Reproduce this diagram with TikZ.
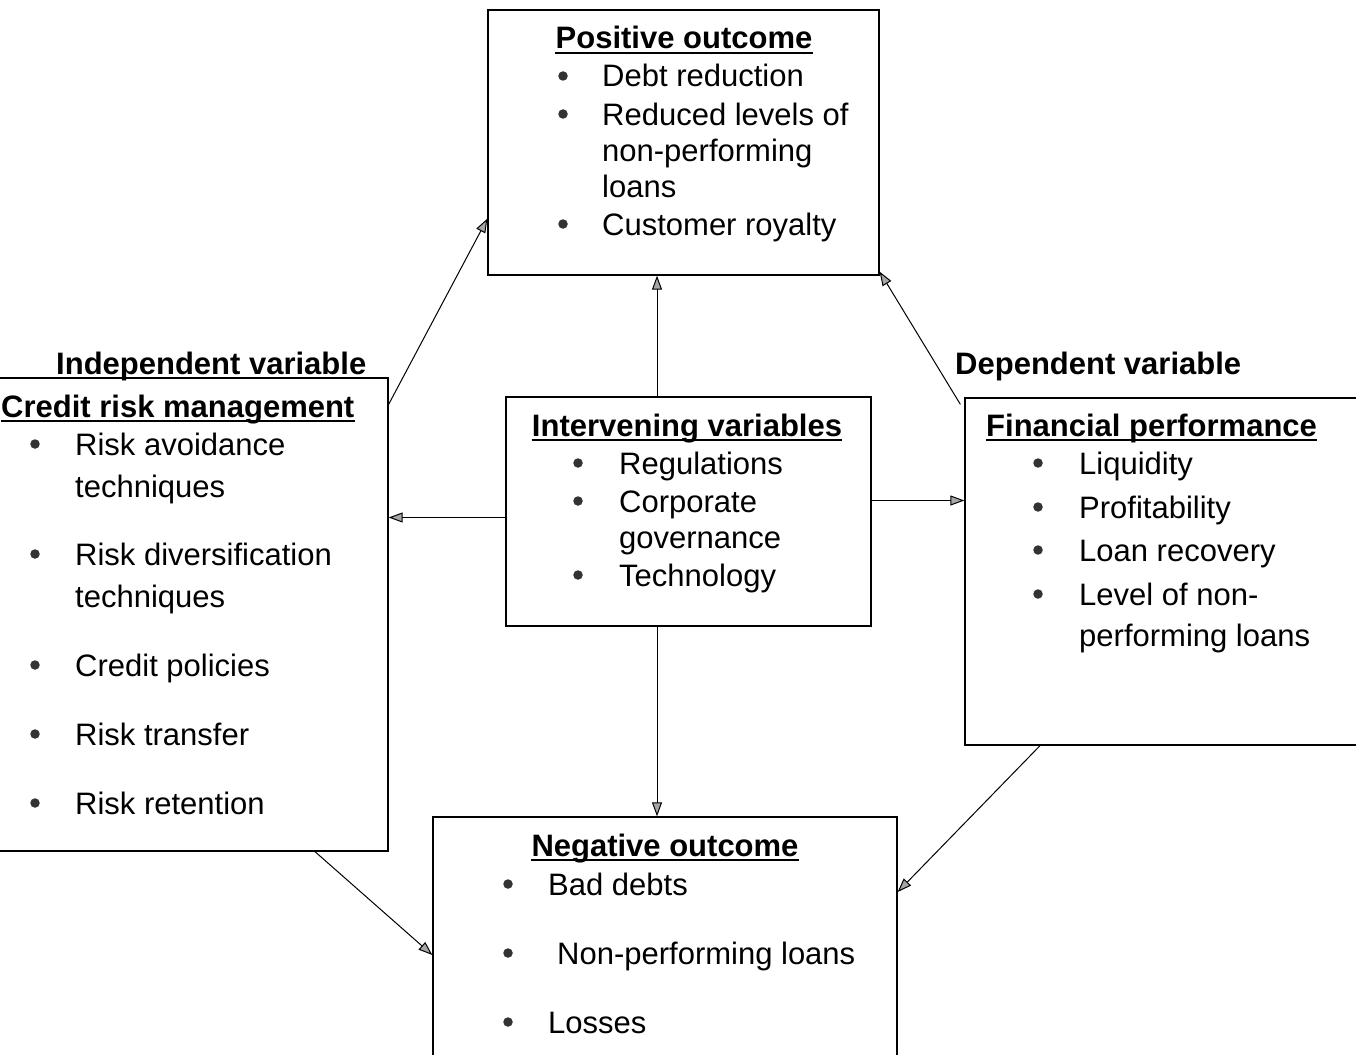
\documentclass[tikz,border=0pt]{standalone}
\usepackage{fontspec}
\setmainfont{Liberation Sans}
\usetikzlibrary{arrows.meta,calc}
\begin{document}
\begin{tikzpicture}[x=1pt,y=-1pt,
  box/.style={draw,line width=1.3pt,inner sep=0,minimum width=#1},
  txt/.style={inner sep=0,anchor=base west,font=\fontsize{31}{36}\selectfont},
  hd/.style={inner sep=0,anchor=base,font=\fontsize{31}{36}\selectfont\bfseries},
  bul/.style={circle,fill=black!80,inner sep=0,minimum size=9.5pt},
  arr/.style={line width=1pt,-{Triangle[length=14pt,width=10pt,fill=black!35]}},
  ul/.style={line width=1.5pt}]
\useasboundingbox (0,0) rectangle (1356,1054);
\clip (0,0) rectangle (1356,1054);
\fill[white] (0,0) rectangle (1356,1054);

% boxes
\node[box=391pt,minimum height=265pt] (topbox) at (683.5,142.5) {};
\node[box=408pt,minimum height=473pt] (leftbox) at (184,614.5) {};
\node[box=365pt,minimum height=229pt] (midbox) at (688.5,511.5) {};
\node[box=410pt,minimum height=347pt] (rightbox) at (1170,571.5) {};
\node[box=464pt,minimum height=258pt] (botbox) at (665,946) {};

% top box text
\node[hd] (hpos) at (684,49) {Positive outcome};
\draw[ul] ([yshift=-4pt]hpos.base west) -- ([yshift=-4pt]hpos.base east);
\node[bul] (b1) at (563,76) {};
\node[txt] (t1) at (602,87) {Debt reduction};
\node[bul] (b2) at (563,114) {};
\node[txt] (t2a) at (602,125) {Reduced levels of};
\node[txt] (t2b) at (602,161) {non-performing};
\node[txt] (t2c) at (602,197) {loans};
\node[bul] (b3) at (563,224) {};
\node[txt] (t3) at (602,235) {Customer royalty};

% left box text
\node[hd,anchor=base west] (hind) at (56,374) {Independent variable};
\node[hd,anchor=base west] (hcrm) at (1,417) {Credit risk management};
\draw[ul] ([yshift=-4pt]hcrm.base west) -- ([yshift=-4pt]hcrm.base east);
\node[bul] (l1) at (35,444) {};
\node[txt] (lt1a) at (75,455) {Risk avoidance};
\node[txt] (lt1b) at (75,497) {techniques};
\node[bul] (l2) at (35,554) {};
\node[txt] (lt2a) at (75,565) {Risk diversification};
\node[txt] (lt2b) at (75,607) {techniques};
\node[bul] (l3) at (35,665) {};
\node[txt] (lt3) at (75,676) {Credit policies};
\node[bul] (l4) at (35,734) {};
\node[txt] (lt4) at (75,745) {Risk transfer};
\node[bul] (l5) at (35,803) {};
\node[txt] (lt5) at (75,814) {Risk retention};

% middle box text
\node[hd] (hint) at (687,436) {Intervening variables};
\draw[ul] ([yshift=-4pt]hint.base west) -- ([yshift=-4pt]hint.base east);
\node[bul] (m1) at (578,463) {};
\node[txt] (mt1) at (619,474) {Regulations};
\node[bul] (m2) at (578,501) {};
\node[txt] (mt2a) at (619,512) {Corporate};
\node[txt] (mt2b) at (619,548) {governance};
\node[bul] (m3) at (578,575) {};
\node[txt] (mt3) at (619,586) {Technology};

% right box text
\node[hd,anchor=base west] (hdep) at (955,374) {Dependent variable};
\node[hd,anchor=base west] (hfin) at (986,436) {Financial performance};
\draw[ul] ([yshift=-4pt]hfin.base west) -- ([yshift=-4pt]hfin.base east);
\node[bul] (r1) at (1038,463) {};
\node[txt] (rt1) at (1079,474) {Liquidity};
\node[bul] (r2) at (1038,507) {};
\node[txt] (rt2) at (1079,518) {Profitability};
\node[bul] (r3) at (1038,550) {};
\node[txt] (rt3) at (1079,561) {Loan recovery};
\node[bul] (r4) at (1038,594) {};
\node[txt] (rt4a) at (1079,605) {Level of non-};
\node[txt] (rt4b) at (1079,646) {performing loans};

% bottom box text
\node[hd] (hneg) at (665,856) {Negative outcome};
\draw[ul] ([yshift=-4pt]hneg.base west) -- ([yshift=-4pt]hneg.base east);
\node[bul] (n1) at (508,884) {};
\node[txt] (nt1) at (548,895) {Bad debts};
\node[bul] (n2) at (508,953) {};
\node[txt] (nt2) at (557,964) {Non-performing loans};
\node[bul] (n3) at (508,1022) {};
\node[txt] (nt3) at (548,1033) {Losses};

% connectors
\coordinate (mL) at ($(midbox.west)+(0,6)$);
\coordinate (mR) at ($(midbox.east)+(0,-11)$);
\draw[arr] ([yshift=-27pt]leftbox.north east) -- ([yshift=57pt]topbox.south west);
\draw[arr] ([xshift=-31.5pt]midbox.north) -- ([xshift=-26.5pt]topbox.south);
\draw[arr] ([xshift=-4pt,yshift=-7pt]rightbox.north west) -- ([yshift=4pt]topbox.south east);
\draw[arr] (mL) -- (mL -| leftbox.east);
\draw[arr] (mR) -- (mR -| rightbox.west);
\draw[arr] ([xshift=-31.5pt]midbox.south) -- ([xshift=-8pt]botbox.north);
\draw[arr] ([xshift=131pt]leftbox.south) -- ([yshift=-9pt]botbox.west);
\draw[arr] ([xshift=-130pt]rightbox.south) -- ([yshift=54pt]botbox.east);
\end{tikzpicture}
\end{document}
